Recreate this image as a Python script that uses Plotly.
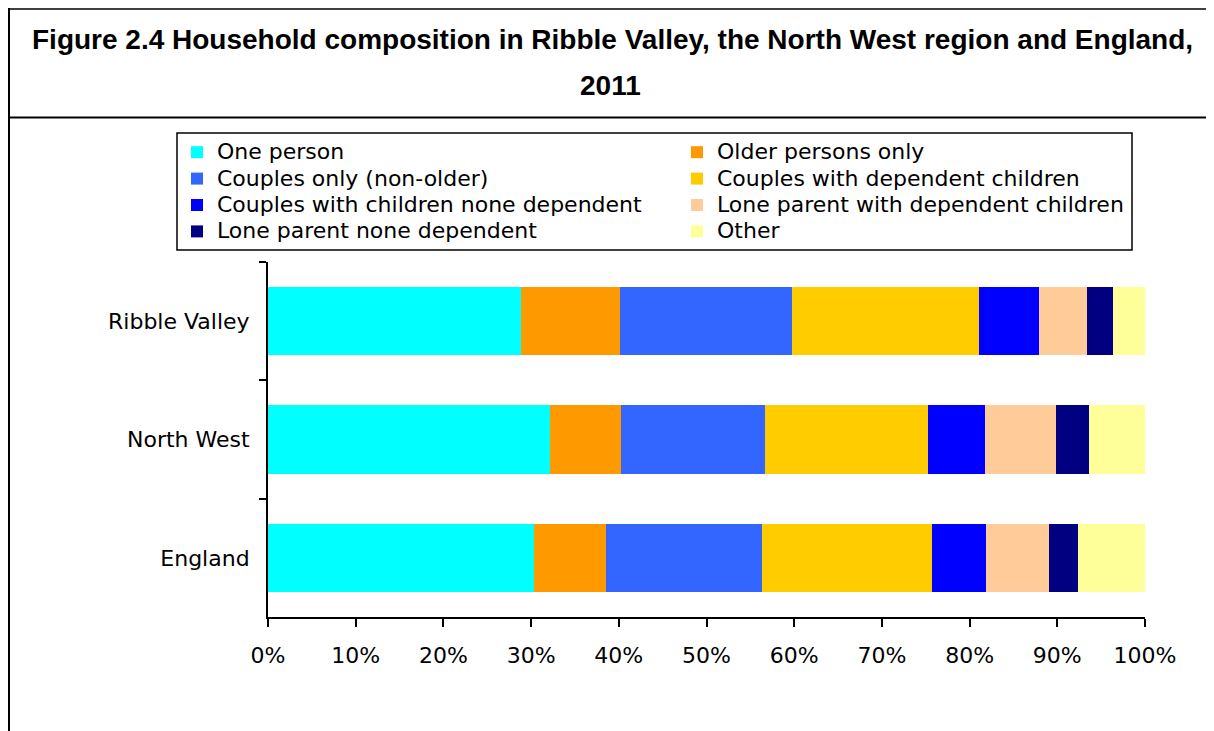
import plotly.graph_objects as go

areas = ["Ribble Valley", "North West", "England"]
categories = [
    "One person",
    "Older persons only",
    "Couples only (non-older)",
    "Couples with dependent children",
    "Couples with children none dependent",
    "Lone parent with dependent children",
    "Lone parent none dependent",
    "Other",
]
colors = ["#00FFFF", "#FF9900", "#3366FF", "#FFCC00", "#0000FF", "#FFCC99", "#000080", "#FFFF99"]

one_person = [28.9, 32.1, 30.3]
older_only = [11.2, 8.2, 8.2]
couples_only = [19.6, 16.4, 17.8]
couples_dep = [21.4, 18.5, 19.4]
couples_nondep = [6.8, 6.6, 6.2]
lone_dep = [5.5, 8.0, 7.1]
lone_nondep = [3.0, 3.8, 3.4]
other = [3.6, 6.4, 7.7]
series = [one_person, older_only, couples_only, couples_dep, couples_nondep, lone_dep, lone_nondep, other]

x_ticks = list(range(0, 101, 10))

FONT = "DejaVu Sans"
OFF = 8  # page body margin

fig = go.Figure()
for name, vals, col in zip(categories, series, colors):
    fig.add_trace(go.Bar(
        y=areas, x=vals, orientation="h",
        name=f'<span style="font-size:22px">{name}</span>',
        marker=dict(color=col, line=dict(width=0)),
    ))

W, H = 1214 - OFF, 731 - OFF
# plot area in page coordinates
PL, PR, PT, PB = 268, 1145, 262, 617
L, T = PL - OFF, PT - OFF
R, B = W - (PR - OFF), H - (PB - OFF)
pw, ph = W - L - R, H - T - B


def px(xp):
    return (xp - OFF - L) / pw


def py(yp):
    return 1 - (yp - OFF - T) / ph


shapes = [
    dict(type="line", xref="paper", yref="paper", x0=px(9), x1=px(9), y0=py(8), y1=py(740), line=dict(color="black", width=2)),
    dict(type="line", xref="paper", yref="paper", x0=px(8), x1=px(1220), y0=py(9), y1=py(9), line=dict(color="black", width=1.5)),
    dict(type="line", xref="paper", yref="paper", x0=px(8), x1=px(1220), y0=py(117.5), y1=py(117.5), line=dict(color="black", width=2)),
    dict(type="rect", xref="paper", yref="paper", x0=px(177), x1=px(1132), y0=py(133), y1=py(250), line=dict(color="black", width=1.5), fillcolor="rgba(0,0,0,0)"),
]

title_font = dict(family="Liberation Sans, Arial", size=28, color="black")
annotations = [
    dict(text="<b>Figure 2.4 Household composition in Ribble Valley, the North West region and England,</b>",
         xref="paper", yref="paper", x=px(612), y=py(40), xanchor="center", yanchor="middle", showarrow=False,
         font=title_font),
    dict(text="<b>2011</b>",
         xref="paper", yref="paper", x=px(610), y=py(85), xanchor="center", yanchor="middle", showarrow=False,
         font=title_font),
]

fig.update_layout(
    width=W, height=H,
    margin=dict(l=L, r=R, t=T, b=B, pad=0),
    barmode="stack", bargap=0.425,
    plot_bgcolor="white", paper_bgcolor="white",
    font=dict(family=FONT, size=21, color="black"),
    showlegend=True,
    legend=dict(
        orientation="h", x=px(177), y=py(134), xanchor="left", yanchor="top",
        traceorder="normal", entrywidth=455, entrywidthmode="pixels",
        font=dict(family=FONT, size=18, color="black"),
        bgcolor="rgba(0,0,0,0)", borderwidth=0, itemclick=False,
    ),
    shapes=shapes, annotations=annotations,
)

fig.update_xaxes(
    range=[0, 100], tickvals=x_ticks, ticktext=[f"{v}%" for v in x_ticks],
    showgrid=False, zeroline=False, showline=True, linecolor="black", linewidth=1.5,
    ticks="outside", ticklen=8, tickwidth=1.5, tickcolor="black",
    ticklabelstandoff=10, tickfont=dict(family=FONT, size=22, color="black"),
)
fig.update_yaxes(
    categoryorder="array", categoryarray=areas, autorange="reversed",
    showgrid=False, zeroline=False, showline=True, linecolor="black", linewidth=2,
    ticks="outside", ticklen=7, tickwidth=1.5, tickcolor="black", tickson="boundaries",
    ticklabelstandoff=12, tickfont=dict(family=FONT, size=22, color="black"),
)

fig.write_html("out.html")
